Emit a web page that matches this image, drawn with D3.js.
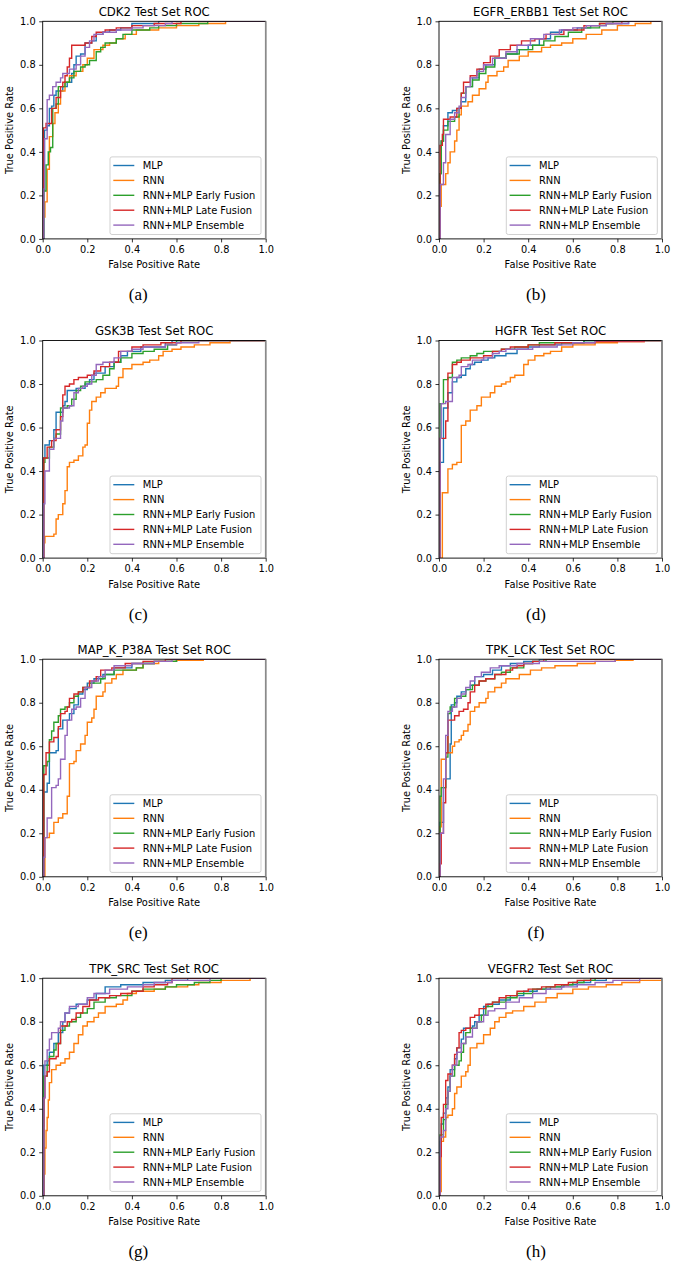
<!DOCTYPE html>
<html>
<head>
<meta charset="utf-8">
<script src="https://cdn.jsdelivr.net/npm/d3@7"></script>
<style>
  body { margin: 0; background: #fff; }
  svg { display: block; }
</style>
</head>
<body>
<svg id="fig" width="676" height="1265"></svg>
<script>
const seriesNames = ["MLP", "RNN", "RNN+MLP Early Fusion", "RNN+MLP Late Fusion", "RNN+MLP Ensemble"];
const seriesColors = ["#1f77b4", "#ff7f0e", "#2ca02c", "#d62728", "#9467bd"];
const panelTitles = ["CDK2 Test Set ROC", "EGFR_ERBB1 Test Set ROC", "GSK3B Test Set ROC", "HGFR Test Set ROC",
  "MAP_K_P38A Test Set ROC", "TPK_LCK Test Set ROC", "TPK_SRC Test Set ROC", "VEGFR2 Test Set ROC"];
const captions = ["(a)", "(b)", "(c)", "(d)", "(e)", "(f)", "(g)", "(h)"];
const tickValues = [0, 0.2, 0.4, 0.6, 0.8, 1.0];

// each curve: [false positive rate, true positive rate] at every step
// (a) CDK2
const cdk2Mlp = [[0,0],[0.005,0.22],[0.008,0.50],[0.02,0.52],[0.03,0.60],[0.04,0.61],[0.05,0.66],[0.06,0.68],[0.09,0.70],[0.11,0.72],[0.13,0.76],[0.14,0.80],[0.15,0.84],[0.17,0.85],[0.19,0.90],[0.22,0.91],[0.24,0.94],[0.27,0.95],[0.30,0.96],[0.35,0.97],[0.40,0.99],[0.52,1],[1,1]];
const cdk2Rnn = [[0,0],[0.003,0.10],[0.01,0.17],[0.02,0.32],[0.03,0.47],[0.045,0.53],[0.055,0.58],[0.07,0.62],[0.08,0.68],[0.10,0.72],[0.12,0.75],[0.15,0.77],[0.18,0.80],[0.20,0.83],[0.23,0.87],[0.27,0.89],[0.30,0.90],[0.33,0.92],[0.37,0.94],[0.42,0.96],[0.52,0.97],[0.60,0.98],[0.70,0.99],[0.82,1],[1,1]];
const cdk2Early = [[0,0],[0.005,0.22],[0.015,0.34],[0.025,0.40],[0.035,0.42],[0.045,0.60],[0.06,0.62],[0.07,0.70],[0.10,0.72],[0.12,0.74],[0.14,0.77],[0.17,0.79],[0.19,0.80],[0.21,0.82],[0.24,0.86],[0.26,0.88],[0.28,0.90],[0.33,0.92],[0.36,0.94],[0.40,0.96],[0.48,0.97],[0.52,0.98],[0.60,0.99],[0.74,1],[1,1]];
const cdk2Late = [[0,0],[0.003,0.51],[0.015,0.53],[0.04,0.60],[0.06,0.65],[0.08,0.70],[0.09,0.72],[0.10,0.75],[0.11,0.79],[0.12,0.83],[0.13,0.89],[0.19,0.90],[0.22,0.93],[0.24,0.95],[0.28,0.96],[0.33,0.97],[0.40,0.98],[0.50,0.99],[0.62,1],[1,1]];
const cdk2Ens = [[0,0],[0.005,0.23],[0.008,0.46],[0.02,0.64],[0.03,0.66],[0.045,0.70],[0.06,0.72],[0.08,0.74],[0.09,0.76],[0.12,0.78],[0.15,0.80],[0.17,0.84],[0.19,0.88],[0.21,0.91],[0.23,0.94],[0.27,0.95],[0.33,0.96],[0.40,0.97],[0.45,0.98],[0.55,0.99],[0.58,1],[1,1]];

// (b) EGFR_ERBB1
const egfrMlp = [[0,0],[0.005,0.30],[0.01,0.45],[0.02,0.52],[0.04,0.58],[0.06,0.59],[0.08,0.60],[0.10,0.63],[0.12,0.70],[0.15,0.74],[0.18,0.78],[0.21,0.80],[0.25,0.83],[0.30,0.85],[0.35,0.87],[0.40,0.89],[0.45,0.92],[0.50,0.95],[0.55,0.96],[0.62,0.97],[0.68,0.98],[0.75,0.99],[0.85,1],[1,1]];
const egfrRnn = [[0,0],[0.005,0.15],[0.01,0.25],[0.03,0.30],[0.04,0.35],[0.05,0.40],[0.07,0.45],[0.08,0.50],[0.09,0.57],[0.10,0.61],[0.13,0.63],[0.15,0.66],[0.18,0.69],[0.21,0.72],[0.22,0.75],[0.26,0.77],[0.29,0.79],[0.31,0.82],[0.36,0.84],[0.40,0.86],[0.46,0.88],[0.50,0.89],[0.55,0.90],[0.60,0.92],[0.66,0.94],[0.73,0.96],[0.80,0.98],[0.88,0.99],[0.95,1],[1,1]];
const egfrEarly = [[0,0],[0.005,0.30],[0.01,0.45],[0.02,0.50],[0.04,0.54],[0.07,0.56],[0.09,0.60],[0.10,0.67],[0.12,0.70],[0.15,0.73],[0.18,0.76],[0.21,0.79],[0.25,0.83],[0.30,0.85],[0.36,0.87],[0.42,0.89],[0.47,0.91],[0.52,0.93],[0.58,0.95],[0.64,0.97],[0.72,0.99],[0.78,1],[1,1]];
const egfrLate = [[0,0],[0.005,0.43],[0.015,0.48],[0.02,0.55],[0.05,0.56],[0.08,0.60],[0.10,0.67],[0.11,0.72],[0.14,0.75],[0.17,0.78],[0.20,0.81],[0.23,0.84],[0.27,0.87],[0.32,0.89],[0.37,0.91],[0.43,0.92],[0.48,0.94],[0.56,0.96],[0.65,0.98],[0.72,0.99],[0.82,1],[1,1]];
const egfrEns = [[0,0],[0.005,0.25],[0.02,0.35],[0.03,0.48],[0.05,0.55],[0.07,0.58],[0.09,0.61],[0.10,0.65],[0.12,0.70],[0.14,0.74],[0.17,0.77],[0.20,0.80],[0.24,0.83],[0.30,0.86],[0.35,0.89],[0.41,0.92],[0.47,0.94],[0.54,0.96],[0.60,0.97],[0.66,0.98],[0.75,0.99],[0.85,1],[1,1]];

// (c) GSK3B
const gskMlp = [[0,0],[0.003,0.46],[0.01,0.52],[0.03,0.54],[0.05,0.59],[0.06,0.67],[0.09,0.70],[0.10,0.72],[0.11,0.77],[0.15,0.78],[0.19,0.80],[0.21,0.82],[0.23,0.85],[0.28,0.88],[0.32,0.90],[0.35,0.93],[0.38,0.95],[0.44,0.97],[0.55,0.99],[0.58,1],[1,1]];
const gskRnn = [[0,0],[0.005,0.07],[0.01,0.10],[0.05,0.11],[0.06,0.18],[0.07,0.20],[0.09,0.25],[0.10,0.31],[0.11,0.42],[0.12,0.44],[0.14,0.45],[0.16,0.47],[0.18,0.51],[0.19,0.52],[0.20,0.62],[0.21,0.68],[0.22,0.72],[0.24,0.74],[0.26,0.76],[0.28,0.78],[0.33,0.79],[0.34,0.83],[0.36,0.87],[0.40,0.89],[0.45,0.90],[0.48,0.91],[0.52,0.93],[0.54,0.95],[0.58,0.96],[0.62,0.97],[0.68,0.98],[0.75,0.99],[0.84,1],[1,1]];
const gskEarly = [[0,0],[0.005,0.44],[0.01,0.46],[0.03,0.51],[0.05,0.55],[0.06,0.57],[0.08,0.69],[0.11,0.70],[0.13,0.73],[0.15,0.77],[0.17,0.79],[0.19,0.81],[0.24,0.82],[0.27,0.84],[0.30,0.87],[0.32,0.90],[0.35,0.92],[0.40,0.94],[0.45,0.95],[0.50,0.96],[0.56,0.98],[0.60,1],[1,1]];
const gskLate = [[0,0],[0.005,0.46],[0.02,0.51],[0.04,0.54],[0.06,0.59],[0.08,0.65],[0.09,0.75],[0.10,0.79],[0.12,0.80],[0.14,0.82],[0.16,0.83],[0.20,0.84],[0.23,0.86],[0.26,0.88],[0.30,0.90],[0.34,0.95],[0.40,0.97],[0.45,0.98],[0.53,0.99],[0.62,1],[1,1]];
const gskEns = [[0,0],[0.005,0.25],[0.01,0.40],[0.03,0.50],[0.05,0.55],[0.08,0.63],[0.09,0.69],[0.12,0.70],[0.14,0.76],[0.16,0.78],[0.18,0.79],[0.20,0.80],[0.22,0.84],[0.24,0.89],[0.27,0.90],[0.32,0.92],[0.35,0.95],[0.40,0.96],[0.45,0.97],[0.55,0.98],[0.60,0.99],[0.70,1],[1,1]];

// (d) HGFR
const hgfrMlp = [[0,0],[0.005,0.44],[0.02,0.69],[0.04,0.76],[0.06,0.81],[0.08,0.83],[0.10,0.84],[0.12,0.87],[0.14,0.89],[0.16,0.90],[0.19,0.91],[0.22,0.92],[0.25,0.93],[0.30,0.94],[0.35,0.96],[0.40,0.97],[0.45,0.98],[0.55,0.99],[0.65,1],[1,1]];
const hgfrRnn = [[0,0],[0.015,0.30],[0.04,0.41],[0.06,0.43],[0.08,0.44],[0.10,0.61],[0.12,0.63],[0.14,0.68],[0.17,0.70],[0.19,0.74],[0.23,0.76],[0.25,0.79],[0.28,0.80],[0.30,0.81],[0.32,0.83],[0.34,0.84],[0.38,0.89],[0.40,0.91],[0.43,0.93],[0.47,0.94],[0.50,0.95],[0.55,0.97],[0.60,0.98],[0.70,0.99],[0.80,0.995],[0.92,1],[1,1]];
const hgfrEarly = [[0,0],[0.005,0.71],[0.02,0.82],[0.04,0.83],[0.06,0.90],[0.08,0.91],[0.10,0.92],[0.14,0.93],[0.17,0.94],[0.20,0.95],[0.28,0.96],[0.34,0.97],[0.40,0.98],[0.45,0.99],[0.65,1],[1,1]];
const hgfrLate = [[0,0],[0.005,0.55],[0.03,0.63],[0.04,0.85],[0.06,0.89],[0.08,0.90],[0.10,0.91],[0.14,0.92],[0.20,0.93],[0.24,0.95],[0.28,0.96],[0.32,0.97],[0.40,0.98],[0.52,0.99],[0.70,0.995],[0.92,1],[1,1]];
const hgfrEns = [[0,0],[0.005,0.55],[0.01,0.71],[0.03,0.72],[0.06,0.83],[0.09,0.84],[0.10,0.88],[0.13,0.89],[0.15,0.91],[0.20,0.92],[0.24,0.94],[0.27,0.95],[0.30,0.96],[0.42,0.97],[0.53,0.98],[0.60,0.99],[0.70,1],[1,1]];

// (e) MAP_K_P38A
const mapkMlp = [[0,0],[0.005,0.39],[0.02,0.43],[0.03,0.57],[0.06,0.58],[0.07,0.68],[0.09,0.72],[0.12,0.75],[0.14,0.79],[0.16,0.84],[0.18,0.86],[0.20,0.89],[0.23,0.91],[0.27,0.93],[0.32,0.96],[0.40,0.98],[0.50,0.99],[0.60,1],[1,1]];
const mapkRnn = [[0,0],[0.01,0.18],[0.03,0.20],[0.05,0.25],[0.07,0.27],[0.09,0.29],[0.11,0.37],[0.12,0.52],[0.14,0.53],[0.15,0.58],[0.17,0.61],[0.19,0.65],[0.20,0.71],[0.22,0.73],[0.23,0.77],[0.24,0.83],[0.27,0.85],[0.28,0.89],[0.31,0.91],[0.33,0.93],[0.36,0.95],[0.42,0.96],[0.45,0.98],[0.52,0.99],[0.60,0.995],[0.72,1],[1,1]];
const mapkEarly = [[0,0],[0.005,0.51],[0.02,0.53],[0.03,0.63],[0.04,0.67],[0.05,0.71],[0.07,0.74],[0.08,0.77],[0.10,0.78],[0.12,0.80],[0.14,0.83],[0.16,0.85],[0.18,0.87],[0.21,0.89],[0.26,0.91],[0.28,0.93],[0.32,0.95],[0.42,0.96],[0.45,0.98],[0.50,0.99],[0.60,1],[1,1]];
const mapkLate = [[0,0],[0.005,0.47],[0.015,0.57],[0.03,0.62],[0.05,0.64],[0.07,0.69],[0.08,0.75],[0.10,0.76],[0.11,0.78],[0.12,0.82],[0.14,0.84],[0.16,0.85],[0.18,0.87],[0.21,0.90],[0.24,0.92],[0.26,0.95],[0.31,0.96],[0.37,0.98],[0.45,0.99],[0.55,1],[1,1]];
const mapkEns = [[0,0],[0.005,0.09],[0.01,0.18],[0.02,0.27],[0.04,0.41],[0.06,0.42],[0.07,0.45],[0.08,0.54],[0.10,0.65],[0.11,0.72],[0.13,0.77],[0.15,0.78],[0.17,0.82],[0.19,0.87],[0.22,0.90],[0.25,0.92],[0.28,0.95],[0.32,0.97],[0.40,0.98],[0.50,0.99],[0.58,1],[1,1]];

// (f) TPK_LCK
const lckMlp = [[0,0],[0.005,0.25],[0.02,0.41],[0.03,0.45],[0.05,0.61],[0.055,0.79],[0.07,0.80],[0.08,0.83],[0.10,0.85],[0.12,0.86],[0.14,0.88],[0.16,0.92],[0.20,0.93],[0.24,0.95],[0.28,0.97],[0.32,0.98],[0.38,0.99],[0.45,1],[1,1]];
const lckRnn = [[0,0],[0.005,0.23],[0.01,0.54],[0.03,0.57],[0.06,0.60],[0.07,0.62],[0.09,0.63],[0.10,0.65],[0.11,0.67],[0.13,0.70],[0.14,0.76],[0.16,0.78],[0.18,0.80],[0.21,0.82],[0.22,0.85],[0.25,0.87],[0.28,0.89],[0.30,0.91],[0.36,0.93],[0.41,0.95],[0.46,0.96],[0.52,0.97],[0.62,0.98],[0.70,0.99],[0.79,0.995],[0.87,1],[1,1]];
const lckEarly = [[0,0],[0.005,0.37],[0.01,0.41],[0.03,0.55],[0.04,0.75],[0.05,0.78],[0.07,0.82],[0.10,0.83],[0.12,0.86],[0.15,0.88],[0.18,0.90],[0.21,0.91],[0.25,0.93],[0.28,0.94],[0.32,0.96],[0.38,0.98],[0.42,0.99],[0.48,1],[1,1]];
const lckLate = [[0,0],[0.005,0.06],[0.01,0.20],[0.02,0.34],[0.03,0.57],[0.04,0.72],[0.07,0.74],[0.09,0.76],[0.11,0.77],[0.13,0.80],[0.14,0.85],[0.16,0.88],[0.18,0.90],[0.21,0.91],[0.25,0.93],[0.30,0.95],[0.33,0.96],[0.35,0.97],[0.38,0.98],[0.42,0.99],[0.47,1],[1,1]];
const lckEns = [[0,0],[0.005,0.20],[0.02,0.45],[0.03,0.65],[0.04,0.76],[0.06,0.78],[0.08,0.82],[0.10,0.84],[0.12,0.87],[0.14,0.90],[0.16,0.92],[0.19,0.94],[0.23,0.96],[0.27,0.97],[0.35,0.98],[0.45,0.99],[0.79,1],[1,1]];

// (g) TPK_SRC
const srcMlp = [[0,0],[0.005,0.60],[0.02,0.62],[0.03,0.66],[0.05,0.70],[0.07,0.75],[0.09,0.80],[0.10,0.84],[0.12,0.86],[0.15,0.88],[0.20,0.90],[0.24,0.93],[0.28,0.96],[0.35,0.97],[0.45,0.98],[0.55,0.99],[0.65,1],[1,1]];
const srcRnn = [[0,0],[0.005,0.10],[0.01,0.22],[0.015,0.30],[0.02,0.36],[0.025,0.44],[0.03,0.52],[0.04,0.58],[0.06,0.60],[0.08,0.61],[0.10,0.63],[0.12,0.66],[0.14,0.70],[0.16,0.74],[0.18,0.78],[0.20,0.80],[0.23,0.82],[0.25,0.84],[0.28,0.87],[0.33,0.88],[0.36,0.90],[0.38,0.93],[0.42,0.94],[0.50,0.95],[0.55,0.96],[0.65,0.97],[0.70,0.98],[0.80,0.99],[0.93,1],[1,1]];
const srcEarly = [[0,0],[0.005,0.55],[0.02,0.60],[0.03,0.64],[0.05,0.67],[0.06,0.70],[0.08,0.76],[0.10,0.78],[0.12,0.80],[0.15,0.82],[0.17,0.84],[0.20,0.86],[0.23,0.89],[0.28,0.91],[0.33,0.92],[0.40,0.94],[0.45,0.95],[0.55,0.96],[0.60,0.97],[0.68,0.98],[0.75,0.99],[0.80,1],[1,1]];
const srcLate = [[0,0],[0.005,0.32],[0.006,0.45],[0.01,0.55],[0.02,0.57],[0.03,0.63],[0.06,0.64],[0.07,0.70],[0.08,0.78],[0.11,0.80],[0.13,0.81],[0.15,0.84],[0.18,0.87],[0.21,0.90],[0.25,0.91],[0.30,0.92],[0.35,0.93],[0.40,0.94],[0.45,0.96],[0.50,0.97],[0.56,0.98],[0.58,1],[1,1]];
const srcEns = [[0,0],[0.005,0.45],[0.01,0.62],[0.02,0.67],[0.03,0.72],[0.04,0.75],[0.07,0.77],[0.08,0.80],[0.10,0.84],[0.12,0.87],[0.16,0.88],[0.20,0.91],[0.23,0.93],[0.30,0.95],[0.38,0.96],[0.45,0.97],[0.50,0.98],[0.58,0.99],[0.75,1],[1,1]];

// (h) VEGFR2
const vegfMlp = [[0,0],[0.005,0.25],[0.01,0.33],[0.02,0.38],[0.03,0.45],[0.04,0.50],[0.05,0.58],[0.07,0.63],[0.08,0.68],[0.10,0.72],[0.11,0.77],[0.15,0.78],[0.16,0.80],[0.18,0.83],[0.20,0.87],[0.22,0.88],[0.27,0.90],[0.32,0.92],[0.38,0.94],[0.44,0.95],[0.50,0.96],[0.56,0.97],[0.62,0.98],[0.68,0.99],[0.75,1],[1,1]];
const vegfRnn = [[0,0],[0.005,0.02],[0.01,0.25],[0.02,0.27],[0.03,0.36],[0.04,0.37],[0.06,0.40],[0.07,0.47],[0.08,0.50],[0.10,0.55],[0.12,0.57],[0.13,0.60],[0.14,0.68],[0.17,0.70],[0.20,0.74],[0.23,0.77],[0.25,0.80],[0.27,0.82],[0.30,0.84],[0.33,0.85],[0.38,0.87],[0.43,0.89],[0.48,0.91],[0.53,0.93],[0.60,0.95],[0.67,0.96],[0.75,0.97],[0.82,0.98],[0.90,0.99],[1,1]];
const vegfEarly = [[0,0],[0.005,0.28],[0.02,0.35],[0.03,0.42],[0.04,0.48],[0.05,0.55],[0.07,0.60],[0.09,0.62],[0.10,0.66],[0.11,0.70],[0.12,0.75],[0.14,0.77],[0.17,0.80],[0.19,0.83],[0.21,0.87],[0.24,0.89],[0.30,0.91],[0.35,0.93],[0.42,0.95],[0.48,0.96],[0.55,0.97],[0.60,0.98],[0.65,0.99],[0.70,1],[1,1]];
const vegfLate = [[0,0],[0.005,0.18],[0.01,0.36],[0.02,0.42],[0.03,0.53],[0.04,0.56],[0.06,0.60],[0.07,0.65],[0.08,0.68],[0.09,0.75],[0.10,0.76],[0.12,0.77],[0.14,0.82],[0.16,0.83],[0.18,0.86],[0.21,0.88],[0.24,0.89],[0.27,0.91],[0.30,0.92],[0.35,0.94],[0.40,0.95],[0.46,0.96],[0.52,0.97],[0.58,0.98],[0.62,0.99],[0.68,1],[1,1]];
const vegfEns = [[0,0],[0.005,0.27],[0.02,0.30],[0.03,0.40],[0.04,0.48],[0.05,0.55],[0.06,0.60],[0.08,0.66],[0.10,0.70],[0.12,0.73],[0.15,0.77],[0.17,0.80],[0.20,0.83],[0.22,0.85],[0.25,0.86],[0.30,0.89],[0.36,0.91],[0.42,0.93],[0.48,0.95],[0.55,0.96],[0.62,0.97],[0.70,0.98],[0.78,0.99],[0.90,1],[1,1]];

const panelCurves = [
  [cdk2Mlp, cdk2Rnn, cdk2Early, cdk2Late, cdk2Ens],
  [egfrMlp, egfrRnn, egfrEarly, egfrLate, egfrEns],
  [gskMlp, gskRnn, gskEarly, gskLate, gskEns],
  [hgfrMlp, hgfrRnn, hgfrEarly, hgfrLate, hgfrEns],
  [mapkMlp, mapkRnn, mapkEarly, mapkLate, mapkEns],
  [lckMlp, lckRnn, lckEarly, lckLate, lckEns],
  [srcMlp, srcRnn, srcEarly, srcLate, srcEns],
  [vegfMlp, vegfRnn, vegfEarly, vegfLate, vegfEns]
];

// layout of the 2x4 grid
const colLeft = [42.7, 439];
const rowTop = [21.3, 340.5, 659.2, 978.2];
const width = 223;
const height = 217.6;
const font = "DejaVu Sans, sans-serif";

const svg = d3.select("#fig");

panelTitles.forEach((title, i) => {
  const left = colLeft[i % 2];
  const top = rowTop[Math.floor(i / 2)];
  const g = svg.append("g").attr("transform", "translate(" + left + "," + top + ")");

  const x = d3.scaleLinear().domain([0, 1]).range([0, width]);
  const y = d3.scaleLinear().domain([0, 1]).range([height, 0]);

  g.append("clipPath").attr("id", "clip" + i)
    .append("rect").attr("width", width).attr("height", height);

  // curves
  const line = d3.line()
    .x(d => x(d[0]))
    .y(d => y(d[1]))
    .curve(d3.curveStepAfter);
  g.append("g").attr("clip-path", "url(#clip" + i + ")")
    .selectAll("path")
    .data(panelCurves[i])
    .enter()
    .append("path")
    .attr("d", line)
    .attr("fill", "none")
    .attr("stroke", (d, k) => seriesColors[k])
    .attr("stroke-width", 1.4)
    .attr("stroke-linejoin", "miter");

  // axes
  const fmt = d3.format(".1f");
  const xaxis = g.append("g")
    .attr("transform", "translate(0," + height + ")")
    .call(d3.axisBottom(x).tickValues(tickValues).tickFormat(fmt).tickSize(3.5).tickPadding(3.5).tickSizeOuter(0));
  const yaxis = g.append("g")
    .call(d3.axisLeft(y).tickValues(tickValues).tickFormat(fmt).tickSize(3.5).tickPadding(3.5).tickSizeOuter(0));
  [xaxis, yaxis].forEach(a => {
    a.select(".domain").remove();
    a.attr("font-family", font).attr("font-size", 9.8);
    a.selectAll("line").attr("stroke", "#000").attr("stroke-width", 0.8);
    a.selectAll("text").attr("fill", "#000");
  });

  // spines
  g.append("rect")
    .attr("width", width).attr("height", height)
    .attr("fill", "none").attr("stroke", "#000").attr("stroke-width", 0.9);
  g.append("line")
    .attr("x1", width).attr("x2", width).attr("y1", 0).attr("y2", height)
    .attr("stroke", "#8a8a8a").attr("stroke-width", 1.6);

  // title and axis labels
  g.append("text")
    .attr("x", width / 2).attr("y", -5.4)
    .attr("text-anchor", "middle")
    .attr("font-family", font).attr("font-size", 11.7)
    .text(title);
  g.append("text")
    .attr("x", width / 2).attr("y", height + 29.5)
    .attr("text-anchor", "middle")
    .attr("font-family", font).attr("font-size", 9.9)
    .text("False Positive Rate");
  g.append("text")
    .attr("transform", "rotate(-90)")
    .attr("x", -height / 2).attr("y", -29.4)
    .attr("text-anchor", "middle")
    .attr("font-family", font).attr("font-size", 9.9)
    .text("True Positive Rate");

  // legend, lower right
  const lw = 151, lh = 77.6;
  const legend = g.append("g")
    .attr("transform", "translate(" + (width - 4.7 - lw) + "," + (height - 4.4 - lh) + ")");
  legend.append("rect")
    .attr("width", lw).attr("height", lh)
    .attr("rx", 2).attr("ry", 2)
    .attr("fill", "#fff").attr("fill-opacity", 0.8)
    .attr("stroke", "#cccccc").attr("stroke-width", 0.9);
  const rows = legend.selectAll("g.row")
    .data(seriesNames)
    .enter()
    .append("g")
    .attr("class", "row")
    .attr("transform", (d, k) => "translate(0," + (8.6 + k * 14.9) + ")");
  rows.append("line")
    .attr("x1", 3.3).attr("x2", 24.3)
    .attr("stroke", (d, k) => seriesColors[k])
    .attr("stroke-width", 1.4);
  rows.append("text")
    .attr("x", 32.7).attr("dy", "0.36em")
    .attr("font-family", font).attr("font-size", 9.9)
    .text(d => d);

  // sub-figure caption
  svg.append("text")
    .attr("x", i % 2 === 0 ? 138.3 : 536)
    .attr("y", top + height + 61.5)
    .attr("text-anchor", "middle")
    .attr("font-family", "Liberation Serif, Times New Roman, serif")
    .attr("font-size", 17)
    .text(captions[i]);
});
</script>
</body>
</html>
